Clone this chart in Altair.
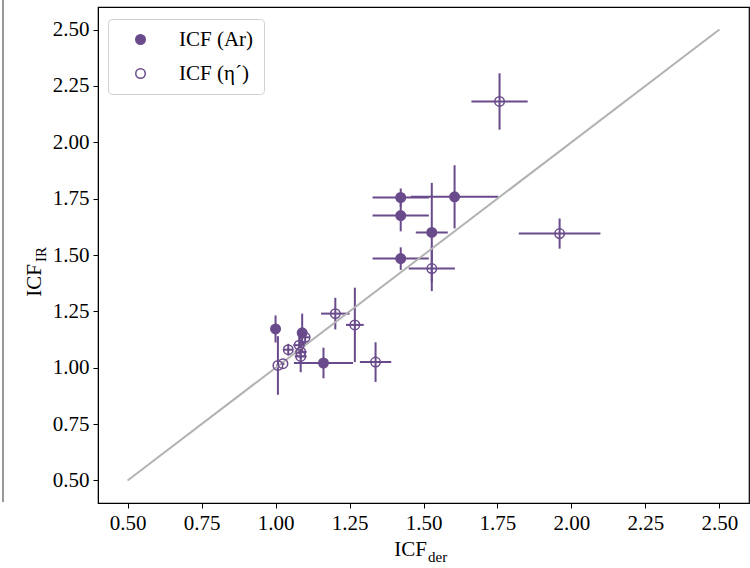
import altair as alt
import pandas as pd

PURPLE = "#694a8b"
SERIF = "Liberation Serif"

# ICF (Ar): derived vs infrared ionisation correction factors
ar_x = [1.000, 1.090, 1.162, 1.423, 1.423, 1.423, 1.528, 1.605]
ar_y = [1.172, 1.155, 1.021, 1.755, 1.675, 1.484, 1.600, 1.758]
ar_xerr = [0.005, 0.010, 0.100, 0.095, 0.095, 0.095, 0.054, 0.148]
ar_yerr = [0.060, 0.085, 0.068, 0.040, 0.070, 0.050, 0.220, 0.140]

# ICF (eta'): derived vs infrared
eta_x = [1.008, 1.025, 1.043, 1.080, 1.085, 1.085, 1.100, 1.202, 1.268, 1.338, 1.528, 1.757, 1.960]
eta_y = [1.010, 1.018, 1.080, 1.100, 1.070, 1.050, 1.135, 1.240, 1.190, 1.025, 1.440, 2.181, 1.595]
eta_xerr = [0.005, 0.005, 0.016, 0.020, 0.020, 0.020, 0.015, 0.048, 0.030, 0.053, 0.078, 0.095, 0.138]
eta_yerr = [0.130, 0.005, 0.026, 0.040, 0.030, 0.070, 0.030, 0.070, 0.165, 0.088, 0.100, 0.125, 0.067]

series_names = ["ICF (Ar)", "ICF (η´)"]
ticks = [0.50, 0.75, 1.00, 1.25, 1.50, 1.75, 2.00, 2.25, 2.50]
one_to_one = [0.5, 2.5]

frames = []
for name, xs, ys, xe, ye in [
    (series_names[0], ar_x, ar_y, ar_xerr, ar_yerr),
    (series_names[1], eta_x, eta_y, eta_xerr, eta_yerr),
]:
    d = pd.DataFrame({"x": xs, "y": ys, "xerr": xe, "yerr": ye})
    d["series"] = name
    frames.append(d)
df = pd.concat(frames, ignore_index=True)
df["xlo"] = df["x"] - df["xerr"]
df["xhi"] = df["x"] + df["xerr"]
df["ylo"] = df["y"] - df["yerr"]
df["yhi"] = df["y"] + df["yerr"]

xscale = alt.Scale(domain=[0.4, 2.6], nice=False, zero=False)
yscale = alt.Scale(domain=[0.4, 2.6], nice=False, zero=False)
xaxis = alt.Axis(values=ticks, format=".2f", title=None)
yaxis = alt.Axis(values=ticks, format=".2f", title=None)

base = alt.Chart(df)

xbars = base.mark_rule(color=PURPLE, strokeWidth=2).encode(
    x=alt.X("xlo:Q", scale=xscale, axis=xaxis),
    x2="xhi:Q",
    y=alt.Y("y:Q", scale=yscale, axis=yaxis),
)
ybars = base.mark_rule(color=PURPLE, strokeWidth=2).encode(
    x=alt.X("x:Q", scale=xscale, axis=xaxis),
    y=alt.Y("ylo:Q", scale=yscale, axis=yaxis),
    y2="yhi:Q",
)

legend = alt.Legend(
    orient="none",
    legendX=10,
    legendY=12,
    title=None,
    labelFont=SERIF,
    labelFontSize=21,
    labelColor="black",
    strokeColor="#d0d0d0",
    fillColor="white",
    cornerRadius=4,
    padding=10,
    rowPadding=12,
    symbolSize=90,
    symbolStrokeWidth=1.5,
    symbolOffset=12,
    labelOffset=28,
)

points = base.mark_point(filled=True, size=90, strokeWidth=1.5, opacity=1).encode(
    x=alt.X("x:Q", scale=xscale, axis=xaxis),
    y=alt.Y("y:Q", scale=yscale, axis=yaxis),
    fill=alt.Fill("series:N", scale=alt.Scale(domain=series_names, range=[PURPLE, "transparent"]), legend=legend),
    stroke=alt.Stroke("series:N", scale=alt.Scale(domain=series_names, range=[PURPLE, PURPLE]), legend=legend),
)

diag = alt.Chart(pd.DataFrame({"x": one_to_one, "y": one_to_one})).mark_line(
    color="#b3b3b3", strokeWidth=2
).encode(
    x=alt.X("x:Q", scale=xscale, axis=xaxis),
    y=alt.Y("y:Q", scale=yscale, axis=yaxis),
)

# Axis titles with subscripts
def label(text, x, y, size, align, angle=0):
    return alt.Chart(pd.DataFrame({"t": [text]})).mark_text(
        font=SERIF, fontSize=size, color="black", align=align, baseline="middle", angle=angle
    ).encode(x=alt.value(x), y=alt.value(y), text="t:N")

xt_main = label("ICF", 329, 543, 21, "right")
xt_sub = label("der", 330, 550, 15, "left")
yt_main = label("ICF", -63, 257, 21, "right", 270)
yt_sub = label("IR", -57, 255, 15, "left", 270)

# Frame edge of the neighbouring panel on the left
edge = alt.Chart(pd.DataFrame({"k": [0]})).mark_rule(color="#333333", strokeWidth=1).encode(
    x=alt.value(-95), y=alt.value(-7), y2=alt.value(495)
)

chart = (
    alt.layer(edge, xbars, ybars, diag, points, xt_main, xt_sub, yt_main, yt_sub)
    .properties(
        width=651,
        height=496,
        autosize=alt.AutoSizeParams(type="none"),
        padding={"left": 98, "top": 7, "right": 1, "bottom": 65},
    )
    .configure_view(stroke="black", strokeWidth=1.2)
    .configure_axis(
        labelFont=SERIF,
        labelFontSize=21,
        labelColor="black",
        tickColor="black",
        tickSize=5,
        tickWidth=1,
        labelPadding=4,
        domainColor="black",
        grid=False,
    )
)

chart.save("out.html", embed_options={"renderer": "svg", "actions": False})
